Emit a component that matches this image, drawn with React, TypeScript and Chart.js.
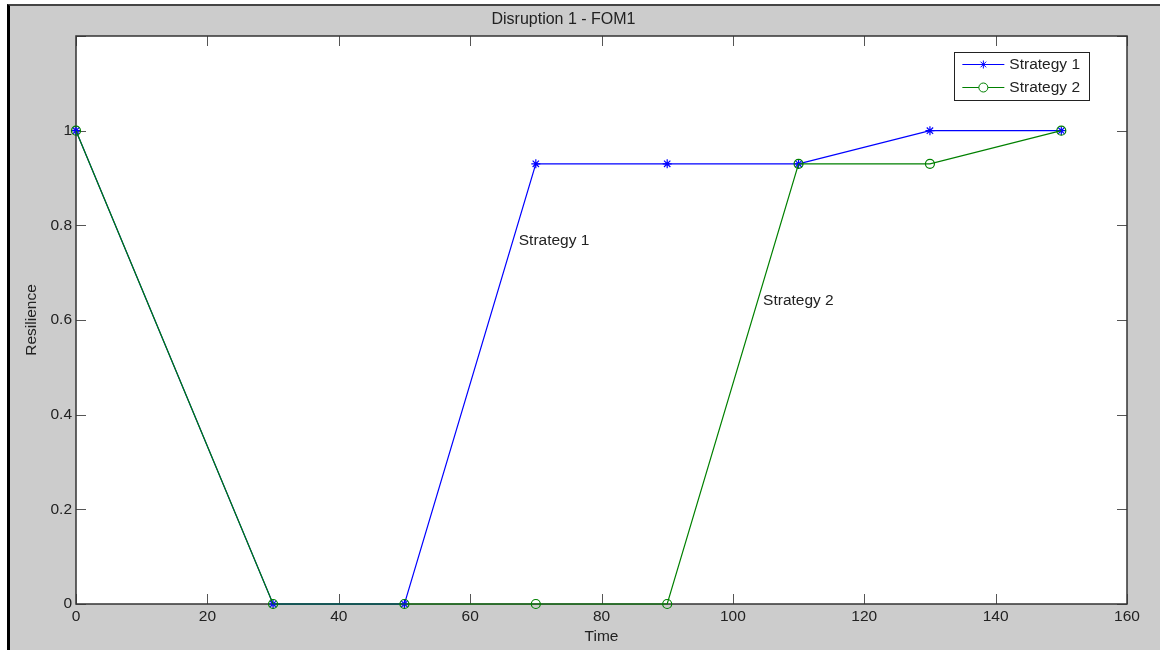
import React, { useEffect, useRef } from "react";
import { Chart, registerables } from "chart.js";

Chart.register(...registerables);

const timePoints = [0, 30, 50, 70, 90, 110, 130, 150];
const strategy1 = [1, 0, 0, 0.93, 0.93, 0.93, 1, 1];
const strategy2 = [1, 0, 0, 0, 0, 0.93, 0.93, 1];
const seriesNames = ["Strategy 1", "Strategy 2"];
const seriesColors = ["#0000ff", "#008000"];
const annotationTexts = ["Strategy 1", "Strategy 2"];
const annotationX = [67.4, 104.6];
const annotationY = [0.768, 0.64];
const xTickMin = 0;
const xTickMax = 160;
const xTickStep = 20;
const yTickMin = 0;
const yTickMax = 1.2;
const yTickStep = 0.2;

const FONT = "'Liberation Sans', Arial, sans-serif";
const FS = 15.5;

const bgPlugin = {
  id: "plotBg",
  beforeDraw(chart: any) {
    const { ctx, chartArea: a } = chart;
    ctx.save();
    ctx.fillStyle = "#ffffff";
    ctx.fillRect(a.left, a.top, a.right - a.left, a.bottom - a.top);
    ctx.restore();
  },
};

const framePlugin = {
  id: "frameTicks",
  beforeDatasetsDraw(chart: any) {
    const { ctx, chartArea: a, scales } = chart;
    const TL = 10;
    ctx.save();
    ctx.strokeStyle = "#555555";
    ctx.lineWidth = 1;
    const line = (x1: number, y1: number, x2: number, y2: number) => {
      ctx.beginPath();
      ctx.moveTo(x1, y1);
      ctx.lineTo(x2, y2);
      ctx.stroke();
    };
    scales.x.ticks.forEach((t: any) => {
      const px = Math.round(scales.x.getPixelForValue(t.value)) + 0.5;
      line(px, a.bottom, px, a.bottom - TL);
      line(px, a.top, px, a.top + TL);
    });
    scales.y.ticks.forEach((t: any) => {
      const py = Math.round(scales.y.getPixelForValue(t.value)) + 0.5;
      line(a.left, py, a.left + TL, py);
      line(a.right, py, a.right - TL, py);
    });
    ctx.strokeStyle = "#333333";
    ctx.lineWidth = 1.5;
    ctx.strokeRect(a.left, a.top, a.right - a.left, a.bottom - a.top);
    ctx.restore();
  },
};

const annotationPlugin = {
  id: "textNotes",
  afterDatasetsDraw(chart: any) {
    const { ctx, scales } = chart;
    ctx.save();
    ctx.font = `${FS}px ${FONT}`;
    ctx.fillStyle = "#222222";
    ctx.textAlign = "left";
    ctx.textBaseline = "middle";
    annotationTexts.forEach((txt, i) => {
      ctx.fillText(
        txt,
        scales.x.getPixelForValue(annotationX[i]),
        scales.y.getPixelForValue(annotationY[i])
      );
    });
    ctx.restore();
  },
};

const legendPlugin = {
  id: "boxLegend",
  afterDraw(chart: any) {
    const { ctx, chartArea: a } = chart;
    ctx.save();
    ctx.font = `${FS}px ${FONT}`;
    const textW = Math.max(...seriesNames.map((s) => ctx.measureText(s).width));
    const padL = 8;
    const sample = 42;
    const gap = 5;
    const padR = 9;
    const rowH = 23;
    const w = padL + sample + gap + textW + padR;
    const h = 48;
    const right = a.right - 38;
    const top = a.top + 16;
    const left = right - w;
    ctx.fillStyle = "#ffffff";
    ctx.fillRect(left, top, w, h);
    ctx.strokeStyle = "#222222";
    ctx.lineWidth = 1;
    ctx.strokeRect(Math.round(left) + 0.5, top + 0.5, Math.round(w), h);
    seriesNames.forEach((name, i) => {
      const cy = top + 12.5 + i * rowH;
      const x0 = left + padL;
      ctx.strokeStyle = seriesColors[i];
      ctx.lineWidth = 1;
      ctx.beginPath();
      ctx.moveTo(x0, cy);
      ctx.lineTo(x0 + sample, cy);
      ctx.stroke();
      const mx = x0 + sample / 2;
      ctx.beginPath();
      if (i === 0) {
        const r = 4;
        for (let k = 0; k < 4; k++) {
          const ang = (k * Math.PI) / 4;
          ctx.moveTo(mx - r * Math.cos(ang), cy - r * Math.sin(ang));
          ctx.lineTo(mx + r * Math.cos(ang), cy + r * Math.sin(ang));
        }
        ctx.stroke();
      } else {
        ctx.arc(mx, cy, 4.5, 0, Math.PI * 2);
        ctx.fillStyle = "#ffffff";
        ctx.fill();
        ctx.stroke();
      }
      ctx.fillStyle = "#222222";
      ctx.textAlign = "left";
      ctx.textBaseline = "middle";
      ctx.fillText(name, x0 + sample + gap, cy + 0.5);
    });
    ctx.restore();
  },
};

export default function App() {
  const canvasRef = useRef<HTMLCanvasElement | null>(null);

  useEffect(() => {
    if (!canvasRef.current) return;
    const toPts = (ys: number[]) => timePoints.map((x, i) => ({ x, y: ys[i] }));
    const chart = new Chart(canvasRef.current, {
      type: "line",
      data: {
        datasets: [
          {
            label: seriesNames[0],
            data: toPts(strategy1),
            borderColor: seriesColors[0],
            backgroundColor: "transparent",
            borderWidth: 1.2,
            pointStyle: "star",
            pointRadius: 4.5,
            pointBorderWidth: 1.2,
            pointBorderColor: seriesColors[0],
            pointBackgroundColor: "transparent",
            tension: 0,
            clip: false,
            order: 1,
          },
          {
            label: seriesNames[1],
            data: toPts(strategy2),
            borderColor: seriesColors[1],
            backgroundColor: "transparent",
            borderWidth: 1.2,
            pointStyle: "circle",
            pointRadius: 4.5,
            pointBorderWidth: 1.2,
            pointBorderColor: seriesColors[1],
            pointBackgroundColor: "transparent",
            tension: 0,
            clip: false,
            order: 0,
          },
        ],
      },
      options: {
        responsive: false,
        animation: false,
        devicePixelRatio: 1,
        layout: { padding: { left: 0, right: 33, top: 0, bottom: 0 } },
        plugins: {
          legend: { display: false },
          tooltip: { enabled: false },
          title: {
            display: true,
            text: "Disruption 1 - FOM1",
            color: "#222222",
            font: { family: FONT, size: 16, weight: "normal" as any, lineHeight: 1.2 },
            padding: { top: 10, bottom: 6.8 },
          },
        },
        scales: {
          x: {
            type: "linear",
            min: xTickMin,
            max: xTickMax,
            grid: { display: false, drawTicks: false },
            border: { display: false },
            ticks: {
              stepSize: xTickStep,
              color: "#222222",
              font: { family: FONT, size: FS },
              padding: 3,
              maxRotation: 0,
            },
            title: {
              display: true,
              text: "Time",
              color: "#222222",
              font: { family: FONT, size: FS, lineHeight: 1.2 },
              padding: { top: 0, bottom: 4 },
            },
            afterFit(scale: any) {
              scale.height = 46;
            },
          },
          y: {
            type: "linear",
            min: yTickMin,
            max: yTickMax,
            grid: { display: false, drawTicks: false },
            border: { display: false },
            ticks: {
              stepSize: yTickStep,
              color: "#222222",
              font: { family: FONT, size: FS },
              padding: 4,
              callback: (v: any) => (Math.abs(Number(v) - yTickMax) < 1e-9 ? "" : String(Math.round(Number(v) * 10) / 10)),
            },
            title: {
              display: true,
              text: "Resilience",
              color: "#222222",
              font: { family: FONT, size: FS, lineHeight: 1.2 },
              padding: { top: 22, bottom: 0 },
            },
            afterFit(scale: any) {
              scale.width = 76;
            },
          },
        },
      },
      plugins: [bgPlugin, framePlugin, annotationPlugin, legendPlugin],
    } as any);
    return () => chart.destroy();
  }, []);

  return (
    <div style={{ position: "fixed", left: 0, top: 0, width: 1160, height: 650, background: "#ffffff", overflow: "hidden" }}>
      <div
        style={{
          position: "absolute",
          left: 7,
          top: 4,
          right: 0,
          bottom: 0,
          background: "#cccccc",
          borderLeft: "3px solid #000000",
          borderTop: "2px solid #444444",
        }}
      />
      <canvas
        ref={canvasRef}
        width={1160}
        height={650}
        style={{ position: "absolute", left: 0, top: 0, width: 1160, height: 650, display: "block" }}
      />
    </div>
  );
}
